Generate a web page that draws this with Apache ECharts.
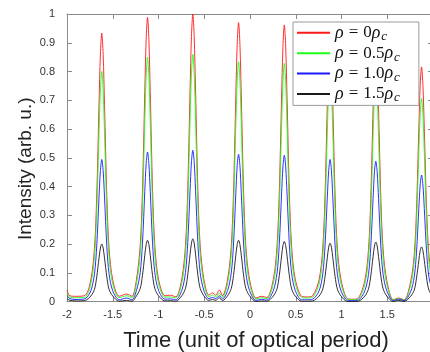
<!DOCTYPE html>
<html><head><meta charset="utf-8">
<script src="https://cdn.jsdelivr.net/npm/echarts/dist/echarts.min.js"></script>
<style>html,body{margin:0;padding:0;background:#fff}#c{width:430px;height:352px}</style>
</head><body><div id="c"></div>
<script>
// time axis (unit of optical period)
const time = [
-2,-1.97,-1.9,-1.8,
-1.74,-1.70,-1.675,-1.65,-1.635,-1.62,-1.605,-1.59,-1.565,-1.54,-1.50,
-1.43,-1.35,-1.29,
-1.24,-1.20,-1.175,-1.15,-1.135,-1.12,-1.105,-1.09,-1.065,-1.04,-1.00,
-0.93,-0.87,-0.81,
-0.745,-0.705,-0.68,-0.655,-0.64,-0.625,-0.61,-0.595,-0.57,-0.545,-0.505,
-0.45,-0.41,-0.375,-0.335,-0.30,
-0.245,-0.205,-0.18,-0.155,-0.14,-0.125,-0.11,-0.095,-0.07,-0.045,-0.005,
0.065,0.125,0.185,
0.255,0.295,0.32,0.345,0.36,0.375,0.39,0.405,0.43,0.455,0.495,
0.565,0.625,0.685,
0.755,0.795,0.82,0.845,0.86,0.875,0.89,0.905,0.93,0.955,0.995,
1.065,1.125,1.185,
1.255,1.295,1.32,1.345,1.36,1.375,1.39,1.405,1.43,1.455,1.495,
1.565,1.625,1.685,
1.755,1.795,1.82,1.845,1.86,1.875,1.89,1.905,1.93,1.955,1.995
];
// rho = 0 rho_c
const rho00 = [
0.038,0.02,0.018,0.022,
0.075,0.184,0.367,0.686,0.860,0.933,0.860,0.686,0.367,0.184,0.075,
0.018,0.026,0.018,
0.078,0.194,0.388,0.727,0.911,0.988,0.911,0.727,0.388,0.194,0.078,
0.02,0.022,0.016,
0.079,0.196,0.392,0.735,0.922,1.0,0.922,0.735,0.392,0.196,0.079,
0.022,0.03,0.022,0.04,0.02,
0.077,0.191,0.381,0.714,0.894,0.97,0.894,0.714,0.381,0.191,0.077,
0.012,0.018,0.014,
0.077,0.190,0.378,0.708,0.887,0.962,0.887,0.708,0.378,0.190,0.077,
0.018,0.016,0.02,
0.075,0.185,0.368,0.688,0.862,0.935,0.862,0.688,0.368,0.185,0.075,
0.01,0.008,0.012,
0.073,0.180,0.358,0.670,0.839,0.91,0.839,0.670,0.358,0.180,0.073,
0.006,0.012,0.006,
0.068,0.163,0.322,0.601,0.752,0.816,0.752,0.601,0.322,0.163,0.068
];
// rho = 0.5 rho_c
const rho05 = [
0.03,0.015,0.013,0.016,
0.061,0.155,0.313,0.588,0.737,0.80,0.737,0.588,0.313,0.155,0.061,
0.013,0.02,0.013,
0.064,0.164,0.332,0.624,0.783,0.85,0.783,0.624,0.332,0.164,0.064,
0.015,0.016,0.012,
0.065,0.166,0.335,0.632,0.792,0.86,0.792,0.632,0.335,0.166,0.065,
0.016,0.022,0.016,0.029,0.015,
0.063,0.162,0.326,0.613,0.768,0.834,0.768,0.613,0.326,0.162,0.063,
0.009,0.013,0.010,
0.063,0.161,0.323,0.608,0.763,0.828,0.763,0.608,0.323,0.161,0.063,
0.013,0.012,0.015,
0.061,0.155,0.313,0.588,0.737,0.80,0.737,0.588,0.313,0.155,0.061,
0.008,0.006,0.009,
0.060,0.152,0.305,0.573,0.719,0.78,0.719,0.573,0.305,0.152,0.060,
0.005,0.01,0.005,
0.056,0.139,0.277,0.519,0.651,0.706,0.651,0.519,0.277,0.139,0.056
];
// rho = 1.0 rho_c
const rho10 = [
0.02,0.01,0.007,0.01,
0.037,0.095,0.193,0.363,0.455,0.494,0.455,0.363,0.193,0.095,0.037,
0.006,0.012,0.006,
0.039,0.100,0.203,0.382,0.479,0.52,0.479,0.382,0.203,0.100,0.039,
0.008,0.009,0.006,
0.039,0.101,0.205,0.386,0.485,0.526,0.485,0.386,0.205,0.101,0.039,
0.01,0.014,0.01,0.02,0.009,
0.038,0.099,0.200,0.376,0.472,0.512,0.472,0.376,0.200,0.099,0.038,
0.004,0.007,0.005,
0.038,0.098,0.198,0.374,0.469,0.509,0.469,0.374,0.198,0.098,0.038,
0.006,0.006,0.008,
0.037,0.095,0.193,0.363,0.455,0.494,0.455,0.363,0.193,0.095,0.037,
0.004,0.003,0.005,
0.037,0.094,0.190,0.358,0.450,0.488,0.450,0.358,0.190,0.094,0.037,
0.003,0.008,0.003,
0.034,0.086,0.172,0.323,0.405,0.44,0.405,0.323,0.172,0.086,0.034
];
// rho = 1.5 rho_c
const rho15 = [
0.01,0.004,0.002,0.004,
0.019,0.042,0.086,0.151,0.186,0.20,0.186,0.151,0.086,0.042,0.019,
0.001,0.004,0.001,
0.020,0.045,0.091,0.161,0.198,0.213,0.198,0.161,0.091,0.045,0.020,
0.002,0.003,0.001,
0.020,0.046,0.093,0.164,0.203,0.218,0.203,0.164,0.093,0.046,0.020,
0.004,0.007,0.004,0.013,0.003,
0.020,0.045,0.091,0.161,0.198,0.213,0.198,0.161,0.091,0.045,0.020,
0.0,0.002,0.001,
0.019,0.044,0.090,0.158,0.195,0.209,0.195,0.158,0.090,0.044,0.019,
0.001,0.001,0.002,
0.019,0.043,0.087,0.153,0.189,0.203,0.189,0.153,0.087,0.043,0.019,
0,0,0.001,
0.019,0.044,0.089,0.156,0.193,0.207,0.193,0.156,0.089,0.044,0.019,
0,0.004,0,
0.018,0.040,0.082,0.143,0.177,0.19,0.177,0.143,0.082,0.040,0.018
];
const seriesNames = ['rho0', 'rho05', 'rho10', 'rho15'];
const legendValues = ['0', '0.5', '1.0', '1.5'];
const seriesColors = ['#ff1a1a', '#1aff1a', '#1a1aff', '#1a1a1a'];
const seriesValues = [rho00, rho05, rho10, rho15];

const chart = echarts.init(document.getElementById('c'), null, {renderer: 'canvas'});
const serif = '"Liberation Serif", "DejaVu Serif", serif';
const sans = '"Liberation Sans", Arial, sans-serif';
const axisGray = '#8a8a8a';

const xCommon = {min: -2, max: 2, interval: 0.5, splitLine: {show: false}};
const yCommon = {min: 0, max: 1, interval: 0.1, splitLine: {show: false}};

chart.setOption({
  backgroundColor: '#fff',
  animation: false,
  grid: {left: 67, top: 14, width: 366, height: 287.5, containLabel: false, outerBoundsMode: 'none'},
  legend: {
    orient: 'vertical', left: 293, top: 22,
    backgroundColor: '#fff', borderColor: '#9a9a9a', borderWidth: 1, borderRadius: 0,
    padding: [1, 19, 1, 4], itemGap: 0, itemWidth: 33, itemHeight: 2, icon: 'rect',
    data: seriesNames,
    formatter: function (name) {
      const v = legendValues[seriesNames.indexOf(name)];
      return '{i|ρ}{e|=}{n|' + v + '}{i|ρ}{s|c}';
    },
    textStyle: {
      color: '#111', fontFamily: serif, fontSize: 17, lineHeight: 19.7,
      rich: {
        i: {fontFamily: serif, fontStyle: 'italic', fontSize: 18, color: '#111'},
        e: {fontFamily: serif, fontSize: 17, color: '#111', padding: [0, 5, 0, 5]},
        n: {fontFamily: serif, fontSize: 17, color: '#111'},
        s: {fontFamily: serif, fontStyle: 'italic', fontSize: 13, color: '#111', padding: [8, 0, 0, 1]}
      }
    }
  },
  xAxis: [
    Object.assign({type: 'value', position: 'bottom',
      name: 'Time (unit of optical period)', nameLocation: 'middle', nameGap: 28, nameMoveOverlap: false,
      nameTextStyle: {fontFamily: sans, fontSize: 22, color: '#222', padding: [0, 0, 0, 12]},
      axisLine: {show: true, onZero: false, lineStyle: {color: axisGray, width: 1}},
      axisTick: {show: true, inside: true, length: 5, lineStyle: {color: axisGray}},
      axisLabel: {fontFamily: sans, fontSize: 11, color: '#333', margin: 8, showMaxLabel: true, hideOverlap: false}
    }, xCommon),
    Object.assign({type: 'value', position: 'top',
      axisLine: {show: true, onZero: false, lineStyle: {color: axisGray, width: 1}},
      axisTick: {show: true, inside: true, length: 5, lineStyle: {color: axisGray}},
      axisLabel: {show: false}
    }, xCommon)
  ],
  yAxis: [
    Object.assign({type: 'value', position: 'left',
      name: 'Intensity (arb. u.)', nameLocation: 'middle', nameGap: 32, nameRotate: 90, nameMoveOverlap: false,
      nameTextStyle: {fontFamily: sans, fontSize: 19, color: '#222', padding: [0, 22, 0, 0]},
      axisLine: {show: true, onZero: false, lineStyle: {color: axisGray, width: 1}},
      axisTick: {show: true, inside: true, length: 5, lineStyle: {color: axisGray}},
      axisLabel: {fontFamily: sans, fontSize: 11, color: '#333', margin: 12}
    }, yCommon),
    Object.assign({type: 'value', position: 'right',
      axisLine: {show: true, onZero: false, lineStyle: {color: axisGray, width: 1}},
      axisTick: {show: true, inside: true, length: 5, lineStyle: {color: axisGray}},
      axisLabel: {show: false}
    }, yCommon)
  ],
  series: seriesNames.map(function (name, k) {
    return {
      name: name, type: 'line', xAxisIndex: 0, yAxisIndex: 0,
      data: time.map(function (t, i) { return [t, seriesValues[k][i]]; }),
      showSymbol: false, symbol: 'none', smooth: 0.3,
      lineStyle: {color: seriesColors[k], width: 0.9},
      itemStyle: {color: seriesColors[k]},
      z: 2 + k
    };
  })
});
</script>
</body></html>
